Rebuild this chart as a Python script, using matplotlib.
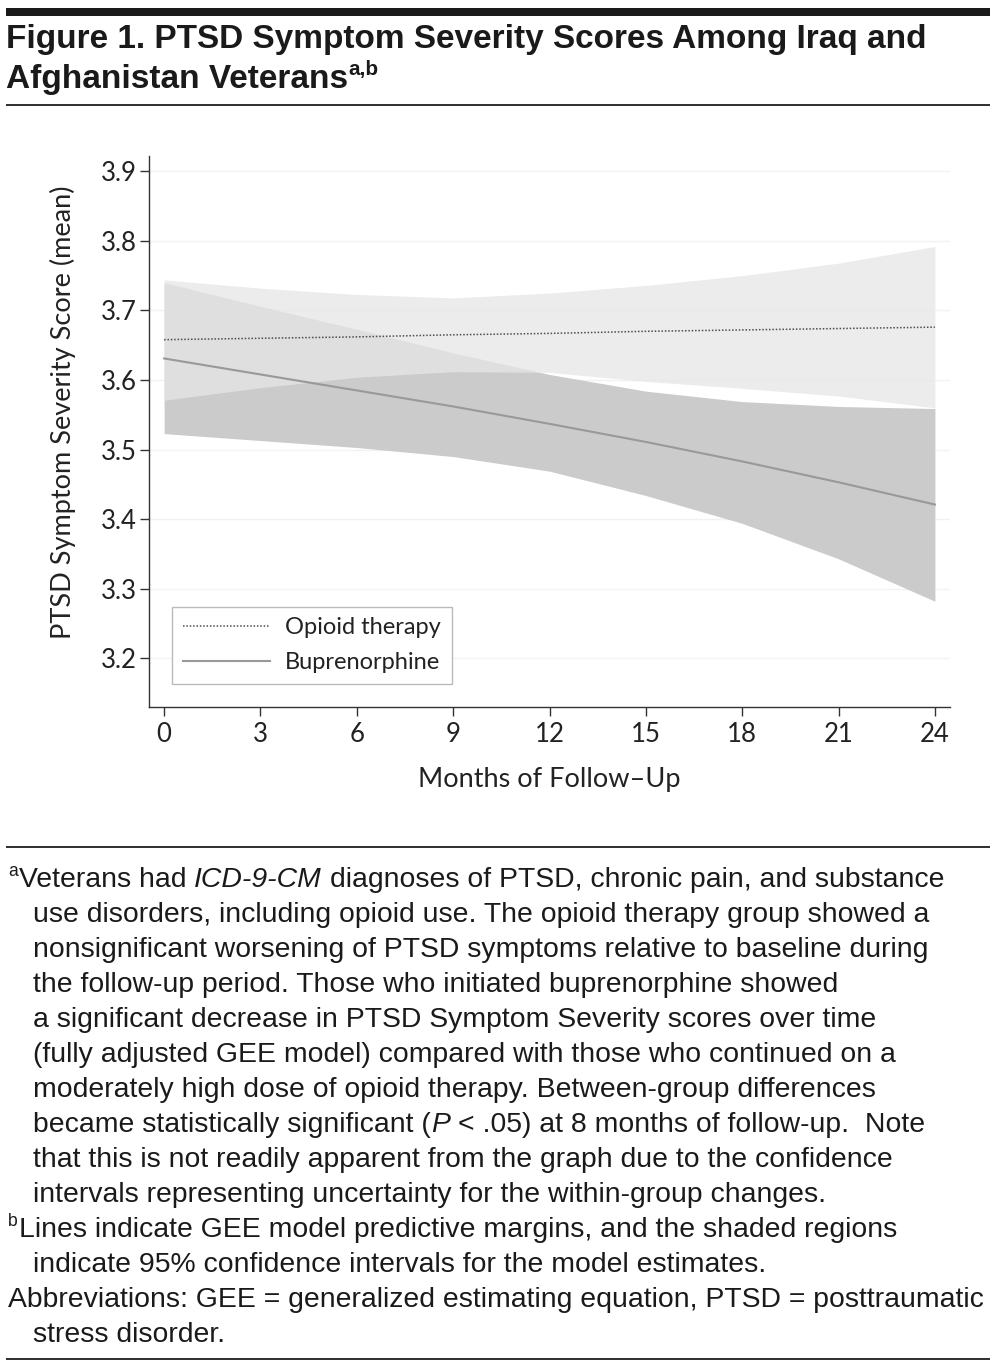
import numpy as np
import matplotlib
matplotlib.use('Agg')
import matplotlib.pyplot as plt
import matplotlib.font_manager as fm
from matplotlib.patches import Rectangle

# months of follow-up
months = [0, 3, 6, 9, 12, 15, 18, 21, 24]

# opioid therapy: predictive margins and 95% CI
opioid_mean = [3.658, 3.660, 3.662, 3.665, 3.667, 3.670, 3.672, 3.674, 3.676]
opioid_hi = [3.744, 3.732, 3.723, 3.718, 3.725, 3.736, 3.750, 3.768, 3.792]
opioid_lo = [3.571, 3.589, 3.604, 3.612, 3.611, 3.598, 3.588, 3.577, 3.560]

# buprenorphine
bup_mean = [3.631, 3.608, 3.585, 3.562, 3.537, 3.511, 3.483, 3.453, 3.421]
bup_hi = [3.740, 3.706, 3.673, 3.639, 3.608, 3.584, 3.569, 3.562, 3.559]
bup_lo = [3.523, 3.513, 3.503, 3.490, 3.469, 3.434, 3.394, 3.343, 3.282]

xticks = [0, 3, 6, 9, 12, 15, 18, 21, 24]
yticks = [3.2, 3.3, 3.4, 3.5, 3.6, 3.7, 3.8, 3.9]

W, H = 997, 1368

names = {f.name for f in fm.fontManager.ttflist}
cond = 'Liberation Sans Narrow' if 'Liberation Sans Narrow' in names else 'Liberation Sans'
plot_font = 'Lato' if 'Lato' in names else 'DejaVu Sans'

fig = plt.figure(figsize=(W / 100, H / 100), dpi=100)
plt.rcParams['font.family'] = [plot_font, 'DejaVu Sans']

def fx(x):
    return x / W
def fy(y):
    return 1 - y / H

ax = fig.add_axes([fx(149), fy(707), (950 - 149) / W, (707 - 156) / H])

ax.fill_between(months, bup_lo, bup_hi, color='#cbcbcb', lw=0, zorder=1)
ax.fill_between(months, opioid_lo, opioid_hi, color='#e6e6e6', alpha=0.75, lw=0, zorder=2)
ax.plot(months, opioid_mean, color='#4d4d4d', lw=1.1, linestyle=(0, (1, 1.2)), label='Opioid therapy', zorder=3)
ax.plot(months, bup_mean, color='#999999', lw=1.5, label='Buprenorphine', zorder=3)

ax.set_xlim(-0.47, 24.47)
ax.set_ylim(3.13, 3.922)
ax.set_xticks(xticks)
ax.set_yticks(yticks)
ax.set_yticklabels([f'{v:.1f}' for v in yticks])
for v in yticks:
    ax.axhline(v, color='#f2f2f2', lw=1, zorder=0)

for s in ['top', 'right']:
    ax.spines[s].set_visible(False)
for s in ['left', 'bottom']:
    ax.spines[s].set_color('#333333')
    ax.spines[s].set_linewidth(1.0)
ax.tick_params(axis='both', colors='#333333', labelcolor='#222222', width=1.0, length=6.5, labelsize=18.5)
ax.tick_params(axis='y', pad=2.5)
ax.tick_params(axis='x', pad=4.0)

ax.set_xlabel('Months of Follow\u2013Up', fontsize=19.5, color='#222222')
ax.xaxis.set_label_coords(0.5, -(767 - 707) / 551)
ax.set_ylabel('PTSD Symptom Severity Score (mean)', fontsize=19.5, color='#222222')
ax.yaxis.set_label_coords(-(149 - 76) / 801, (707 - 412) / 551)

leg = ax.legend(loc='lower left', bbox_to_anchor=((172 - 149) / 801, (707 - 684) / 551),
                borderaxespad=0, fontsize=17, handlelength=3.7, handletextpad=0.65,
                labelspacing=0.6, borderpad=0.45, fancybox=False, framealpha=1)
leg.get_frame().set_edgecolor('#bbbbbb')
leg.get_frame().set_linewidth(1.0)
for t in leg.get_texts():
    t.set_color('#222222')

# rules
fig.patches.append(Rectangle((fx(6), fy(16)), (990 - 6) / W, 8 / H, transform=fig.transFigure, color='#1a1a1a', lw=0))
for y in [105, 847, 1359]:
    fig.patches.append(Rectangle((fx(6), fy(y + 1)), (990 - 6) / W, 2 / H, transform=fig.transFigure, color='#333333', lw=0))

r = fig.canvas.get_renderer()

def put(x, y, parts, size, family, weight='normal'):
    sp = fig.text(0, 0, 'x x', fontsize=size, family=family, weight=weight)
    nsp = fig.text(0, 0, 'xx', fontsize=size, family=family, weight=weight)
    gap = sp.get_window_extent(r).width - nsp.get_window_extent(r).width
    sp.remove()
    nsp.remove()
    for i, (txt, style) in enumerate(parts):
        fs = size
        yy = y
        if style == 'sup':
            fs = size * 0.62
            yy = y - size * 0.55
        t = fig.text(fx(x), fy(yy), txt, fontsize=fs, family=family, weight=weight,
                     style='italic' if style == 'it' else 'normal', va='baseline', ha='left', color='#1a1a1a')
        x = t.get_window_extent(r).x1
        if i + 1 < len(parts) and parts[i + 1][1] != 'sup' and style != 'sup' and not parts[i + 1][0].startswith(('.', ',', ')')):
            x += gap * (0 if txt.endswith('(') else 1)
        elif style == 'sup':
            x += 1

# title
tsize = 24
put(6, 48, [('Figure 1. PTSD Symptom Severity Scores Among Iraq and', 'n')], tsize, [cond, 'DejaVu Sans'], 'bold')
put(6, 88, [('Afghanistan Veterans', 'n'), ('a,b', 'sup')], tsize, [cond, 'DejaVu Sans'], 'bold')

# footnotes
fsize = 20.4
lines = [
    (8, [('a', 'sup'), ('Veterans had', 'n'), ('ICD-9-CM', 'it'), ('diagnoses of PTSD, chronic pain, and substance', 'n')]),
    (33, [('use disorders, including opioid use. The opioid therapy group showed a', 'n')]),
    (33, [('nonsignificant worsening of PTSD symptoms relative to baseline during', 'n')]),
    (33, [('the follow-up period. Those who initiated buprenorphine showed', 'n')]),
    (33, [('a significant decrease in PTSD Symptom Severity scores over time', 'n')]),
    (33, [('(fully adjusted GEE model) compared with those who continued on a', 'n')]),
    (33, [('moderately high dose of opioid therapy. Between-group differences', 'n')]),
    (33, [('became statistically significant (', 'n'), ('P', 'it'), ('< .05) at 8 months of follow-up.  Note', 'n')]),
    (33, [('that this is not readily apparent from the graph due to the confidence', 'n')]),
    (33, [('intervals representing uncertainty for the within-group changes.', 'n')]),
    (8, [('b', 'sup'), ('Lines indicate GEE model predictive margins, and the shaded regions', 'n')]),
    (33, [('indicate 95% confidence intervals for the model estimates.', 'n')]),
    (8, [('Abbreviations: GEE = generalized estimating equation, PTSD = posttraumatic', 'n')]),
    (33, [('stress disorder.', 'n')]),
]
for i, (x0, parts) in enumerate(lines):
    put(x0, 887 + 35 * i, parts, fsize, [cond, 'DejaVu Sans'])

fig.savefig('out.png', dpi=100)
